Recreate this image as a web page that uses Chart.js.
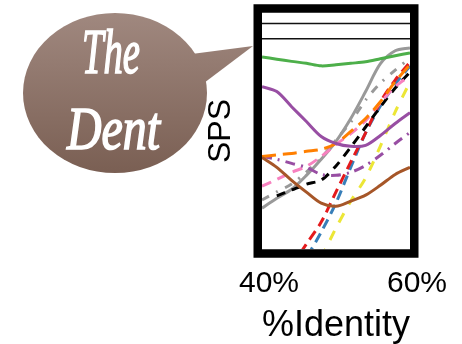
<!DOCTYPE html>
<html>
<head>
<meta charset="utf-8">
<script src="https://cdn.jsdelivr.net/npm/chart.js@4.4.0/dist/chart.umd.min.js"></script>
<style>
  html, body { margin: 0; padding: 0; background: #fff; }
  #wrap { width: 462px; height: 344px; }
</style>
</head>
<body>
<div id="wrap"><canvas id="spsChart" width="462" height="344"></canvas></div>
<script>
// x positions (% identity) shared by every series
const identity = [40, 42, 44, 46, 48, 50, 52, 54, 56, 58, 60];
const xTicks = [40, 60];
const refLines = [95.6, 89.1];

// SPS per method, null / below 0 = off the bottom of the plot
const greenSolid  = [81.4, 80.4, 79.5, 78.7, 77.6, 78.1, 78.7, 79.3, 80.6, 81.9, 83.1];
const graySolid   = [17.3, 21.5, 25.3, 31.2, 38.0, 45.6, 55.3, 66.7, 78.5, 84.0, 85.2];
const purpleSolid = [68.8, 66.7, 60.3, 54.0, 47.7, 44.7, 43.5, 43.9, 48.1, 53.2, 57.8];
const brownSolid  = [38.8, 34.6, 29.1, 24.1, 19.4, 18.1, 20.3, 22.8, 27.0, 31.6, 34.6];
const orangeDash  = [39.2, 39.9, 40.5, 41.4, 42.2, 44.7, 49.8, 55.3, 62.4, 70.9, 78.1];
const purpleDot   = [39.2, 38.0, 36.3, 34.6, 31.6, 31.2, 32.5, 35.4, 39.7, 44.7, 49.4];
const pinkDash    = [26.6, 29.5, 32.5, 35.0, 39.2, 44.3, 48.9, 54.4, 62.0, 68.8, 73.4];
const blackDash   = [null, 22.5, 25.0, 27.5, 29.2, 35.2, 43.2, 51.7, 60.2, 68.2, 75.0];
const grayDot     = [20.8, 24.2, 27.5, 32.6, 38.6, 46.2, 53.8, 63.1, 70.3, 75.8, 80.9];
const redDash     = [null, null, -7.2, 2.1, 11.4, 24.2, 36.9, 49.2, 62.3, 71.6, 79.2];
const blueDash    = [null, null, -14.8, -3.8, 7.2, 19.5, 34.7, 49.2, 60.6, 69.9, 77.5];
const yellowDash  = [null, null, null, null, -3.8, 8.9, 20.3, 30.1, 43.6, 58.1, 70.8];

function points(values) {
    return values.map((v, i) => ({ x: identity[i], y: v }));
}

function series(values, color, dash) {
    return {
        data: points(values),
        borderColor: color,
        backgroundColor: color,
        borderWidth: 3,
        borderDash: dash || [],
        pointRadius: 0,
        fill: false,
        tension: 0.3
    };
}

const datasets = [
    series(greenSolid, '#4daf4a'),
    series(purpleSolid, '#984ea3'),
    series(brownSolid, '#a65628'),
    series(orangeDash, '#ff7f00', [14, 7]),
    series(purpleDot, '#984ea3', [10, 6, 2, 6]),
    series(pinkDash, '#f781bf', [10, 7]),
    series(blackDash, '#000000', [9, 7]),
    series(grayDot, '#999999', [8, 8, 2, 8]),
    series(redDash, '#e41a1c', [10, 6]),
    series(blueDash, '#377eb8', [10, 6]),
    series(yellowDash, '#ece636', [10, 10]),
    series(graySolid, '#999999')
];

refLines.forEach(v => {
    datasets.push({
        data: [{ x: xTicks[0], y: v }, { x: xTicks[1], y: v }],
        borderColor: '#111',
        borderWidth: 1.5,
        pointRadius: 0,
        fill: false
    });
});

// squeeze a word into a given box, slightly stretched upward
function fitWord(ctx, text, left, baseline, width, size) {
    ctx.font = 'italic ' + size + 'px "Liberation Serif"';
    const w = ctx.measureText(text).width;
    ctx.save();
    ctx.translate(left, baseline);
    ctx.scale(width / w, 1.22);
    ctx.fillText(text, 0, 0);
    ctx.strokeText(text, 0, 0);
    ctx.restore();
}

const bubblePlugin = {
    id: 'bubble',
    beforeDraw(chart) {
        const ctx = chart.ctx;
        ctx.save();
        ctx.fillStyle = '#fff';
        ctx.fillRect(0, 0, chart.width, chart.height);

        const g = ctx.createLinearGradient(0, 13, 0, 173);
        g.addColorStop(0, '#a0887f');
        g.addColorStop(1, '#7a5f53');
        ctx.fillStyle = g;
        ctx.beginPath();
        ctx.ellipse(115, 93, 92, 80, 0, 0, Math.PI * 2);
        ctx.fill();
        ctx.beginPath();
        ctx.moveTo(184, 55);
        ctx.lineTo(253, 46);
        ctx.lineTo(200, 86);
        ctx.closePath();
        ctx.fill();

        ctx.fillStyle = '#fff';
        ctx.strokeStyle = '#fff';
        ctx.lineWidth = 1.4;
        ctx.textBaseline = 'alphabetic';
        fitWord(ctx, 'The', 82, 73, 58, 52);
        fitWord(ctx, 'Dent', 67, 149, 93, 50);
        ctx.restore();
    }
};

const framePlugin = {
    id: 'frame',
    afterDatasetsDraw(chart) {
        const { left, top, right, bottom } = chart.chartArea;
        const ctx = chart.ctx;
        ctx.save();
        ctx.strokeStyle = '#000';
        ctx.lineWidth = 8.5;
        ctx.strokeRect(left - 4.25, top - 4.5, right - left + 8.5, bottom - top + 9);
        ctx.restore();
    }
};

const ctx = document.getElementById('spsChart').getContext('2d');
new Chart(ctx, {
    type: 'line',
    data: { datasets: datasets },
    plugins: [bubblePlugin, framePlugin],
    options: {
        responsive: false,
        animation: false,
        events: [],
        layout: { padding: { left: 205, top: 13, right: 52, bottom: 0 } },
        plugins: { legend: { display: false }, tooltip: { enabled: false } },
        scales: {
            x: {
                type: 'linear',
                min: xTicks[0],
                max: xTicks[1],
                grid: { display: false, drawTicks: false },
                border: { display: false },
                afterBuildTicks: scale => { scale.ticks = xTicks.map(v => ({ value: v })); },
                afterFit: scale => { scale.height = 95; },
                ticks: {
                    padding: 20,
                    labelOffset: 7,
                    maxRotation: 0,
                    color: '#000',
                    font: { family: '"Liberation Sans", Arial', size: 30, lineHeight: 1 },
                    callback: v => v + '%'
                },
                title: {
                    display: true,
                    text: '%Identity',
                    color: '#000',
                    padding: { top: 0, bottom: 0 },
                    font: { family: '"Liberation Sans", Arial', size: 36, lineHeight: 1 }
                }
            },
            y: {
                min: 0,
                max: 100,
                grid: { display: false, drawTicks: false },
                border: { display: false },
                ticks: { display: false },
                afterFit: scale => { scale.width = 57; },
                title: {
                    display: true,
                    text: 'SPS',
                    color: '#000',
                    padding: { top: 0, bottom: 0 },
                    font: { family: '"Liberation Sans", Arial', size: 32, lineHeight: 1 }
                }
            }
        }
    }
});
</script>
</body>
</html>
